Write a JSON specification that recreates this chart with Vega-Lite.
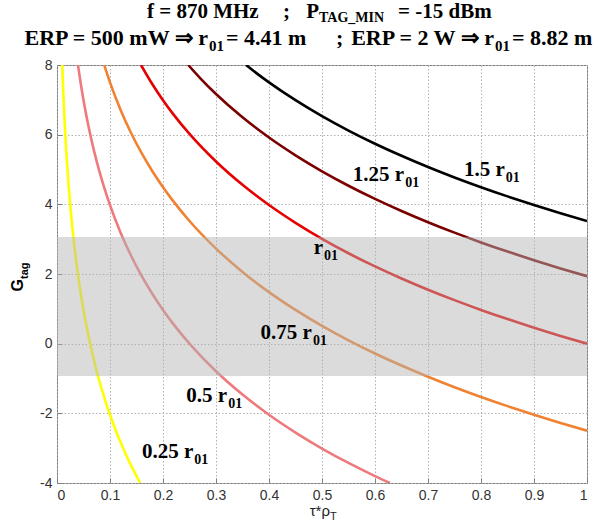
{
  "$schema": "https://vega.github.io/schema/vega-lite/v6.json",
  "autosize": {"type": "none"},
  "padding": {"left": 57, "top": 65, "right": 29, "bottom": 46},
  "width": 530,
  "height": 418,
  "background": "white",
  "config": {
    "view": {"stroke": "#7f7f7f", "strokeWidth": 1},
    "axis": {
      "labelFont": "Liberation Sans",
      "labelFontSize": 14,
      "labelColor": "#333333",
      "grid": true,
      "gridColor": "#b0b0b0",
      "gridDash": [1.5, 2],
      "gridWidth": 1,
      "domain": false,
      "tickSize": -5,
      "tickColor": "#7f7f7f",
      "title": null
    }
  },
  "datasets": {
    "curves": [
      {"curve": "1.5 r01", "x": 0.3567, "y": 8},
      {"curve": "1.5 r01", "x": 0.38, "y": 7.724},
      {"curve": "1.5 r01", "x": 0.4, "y": 7.501},
      {"curve": "1.5 r01", "x": 0.45, "y": 6.99},
      {"curve": "1.5 r01", "x": 0.5, "y": 6.532},
      {"curve": "1.5 r01", "x": 0.55, "y": 6.118},
      {"curve": "1.5 r01", "x": 0.6, "y": 5.74},
      {"curve": "1.5 r01", "x": 0.65, "y": 5.393},
      {"curve": "1.5 r01", "x": 0.7, "y": 5.071},
      {"curve": "1.5 r01", "x": 0.75, "y": 4.771},
      {"curve": "1.5 r01", "x": 0.8, "y": 4.491},
      {"curve": "1.5 r01", "x": 0.85, "y": 4.228},
      {"curve": "1.5 r01", "x": 0.9, "y": 3.98},
      {"curve": "1.5 r01", "x": 0.95, "y": 3.745},
      {"curve": "1.5 r01", "x": 1, "y": 3.522},
      {"curve": "1.25 r01", "x": 0.2476, "y": 8},
      {"curve": "1.25 r01", "x": 0.27, "y": 7.624},
      {"curve": "1.25 r01", "x": 0.3, "y": 7.167},
      {"curve": "1.25 r01", "x": 0.35, "y": 6.497},
      {"curve": "1.25 r01", "x": 0.4, "y": 5.917},
      {"curve": "1.25 r01", "x": 0.45, "y": 5.406},
      {"curve": "1.25 r01", "x": 0.5, "y": 4.948},
      {"curve": "1.25 r01", "x": 0.55, "y": 4.534},
      {"curve": "1.25 r01", "x": 0.6, "y": 4.156},
      {"curve": "1.25 r01", "x": 0.65, "y": 3.809},
      {"curve": "1.25 r01", "x": 0.7, "y": 3.487},
      {"curve": "1.25 r01", "x": 0.75, "y": 3.187},
      {"curve": "1.25 r01", "x": 0.8, "y": 2.907},
      {"curve": "1.25 r01", "x": 0.85, "y": 2.644},
      {"curve": "1.25 r01", "x": 0.9, "y": 2.396},
      {"curve": "1.25 r01", "x": 0.95, "y": 2.161},
      {"curve": "1.25 r01", "x": 1, "y": 1.938},
      {"curve": "r01", "x": 0.1585, "y": 8},
      {"curve": "r01", "x": 0.18, "y": 7.447},
      {"curve": "r01", "x": 0.2, "y": 6.99},
      {"curve": "r01", "x": 0.22, "y": 6.576},
      {"curve": "r01", "x": 0.25, "y": 6.021},
      {"curve": "r01", "x": 0.3, "y": 5.229},
      {"curve": "r01", "x": 0.35, "y": 4.559},
      {"curve": "r01", "x": 0.4, "y": 3.979},
      {"curve": "r01", "x": 0.45, "y": 3.468},
      {"curve": "r01", "x": 0.5, "y": 3.01},
      {"curve": "r01", "x": 0.55, "y": 2.596},
      {"curve": "r01", "x": 0.6, "y": 2.218},
      {"curve": "r01", "x": 0.65, "y": 1.871},
      {"curve": "r01", "x": 0.7, "y": 1.549},
      {"curve": "r01", "x": 0.75, "y": 1.249},
      {"curve": "r01", "x": 0.8, "y": 0.969},
      {"curve": "r01", "x": 0.85, "y": 0.706},
      {"curve": "r01", "x": 0.9, "y": 0.458},
      {"curve": "r01", "x": 0.95, "y": 0.223},
      {"curve": "r01", "x": 1, "y": 0},
      {"curve": "0.75 r01", "x": 0.0891, "y": 8},
      {"curve": "0.75 r01", "x": 0.1, "y": 7.501},
      {"curve": "0.75 r01", "x": 0.12, "y": 6.709},
      {"curve": "0.75 r01", "x": 0.14, "y": 6.04},
      {"curve": "0.75 r01", "x": 0.16, "y": 5.46},
      {"curve": "0.75 r01", "x": 0.18, "y": 4.948},
      {"curve": "0.75 r01", "x": 0.2, "y": 4.491},
      {"curve": "0.75 r01", "x": 0.22, "y": 4.077},
      {"curve": "0.75 r01", "x": 0.25, "y": 3.522},
      {"curve": "0.75 r01", "x": 0.3, "y": 2.73},
      {"curve": "0.75 r01", "x": 0.35, "y": 2.06},
      {"curve": "0.75 r01", "x": 0.4, "y": 1.48},
      {"curve": "0.75 r01", "x": 0.45, "y": 0.969},
      {"curve": "0.75 r01", "x": 0.5, "y": 0.511},
      {"curve": "0.75 r01", "x": 0.55, "y": 0.097},
      {"curve": "0.75 r01", "x": 0.6, "y": -0.281},
      {"curve": "0.75 r01", "x": 0.65, "y": -0.628},
      {"curve": "0.75 r01", "x": 0.7, "y": -0.95},
      {"curve": "0.75 r01", "x": 0.75, "y": -1.25},
      {"curve": "0.75 r01", "x": 0.8, "y": -1.53},
      {"curve": "0.75 r01", "x": 0.85, "y": -1.793},
      {"curve": "0.75 r01", "x": 0.9, "y": -2.041},
      {"curve": "0.75 r01", "x": 0.95, "y": -2.276},
      {"curve": "0.75 r01", "x": 1, "y": -2.499},
      {"curve": "0.5 r01", "x": 0.0396, "y": 8},
      {"curve": "0.5 r01", "x": 0.045, "y": 7.447},
      {"curve": "0.5 r01", "x": 0.05, "y": 6.989},
      {"curve": "0.5 r01", "x": 0.06, "y": 6.197},
      {"curve": "0.5 r01", "x": 0.07, "y": 5.528},
      {"curve": "0.5 r01", "x": 0.08, "y": 4.948},
      {"curve": "0.5 r01", "x": 0.09, "y": 4.437},
      {"curve": "0.5 r01", "x": 0.1, "y": 3.979},
      {"curve": "0.5 r01", "x": 0.12, "y": 3.187},
      {"curve": "0.5 r01", "x": 0.14, "y": 2.518},
      {"curve": "0.5 r01", "x": 0.16, "y": 1.938},
      {"curve": "0.5 r01", "x": 0.18, "y": 1.426},
      {"curve": "0.5 r01", "x": 0.2, "y": 0.969},
      {"curve": "0.5 r01", "x": 0.22, "y": 0.555},
      {"curve": "0.5 r01", "x": 0.25, "y": 0},
      {"curve": "0.5 r01", "x": 0.3, "y": -0.792},
      {"curve": "0.5 r01", "x": 0.35, "y": -1.462},
      {"curve": "0.5 r01", "x": 0.4, "y": -2.042},
      {"curve": "0.5 r01", "x": 0.45, "y": -2.553},
      {"curve": "0.5 r01", "x": 0.5, "y": -3.011},
      {"curve": "0.5 r01", "x": 0.55, "y": -3.425},
      {"curve": "0.5 r01", "x": 0.6, "y": -3.803},
      {"curve": "0.5 r01", "x": 0.628, "y": -4},
      {"curve": "0.25 r01", "x": 0.00991, "y": 8},
      {"curve": "0.25 r01", "x": 0.011, "y": 7.545},
      {"curve": "0.25 r01", "x": 0.012, "y": 7.167},
      {"curve": "0.25 r01", "x": 0.013, "y": 6.82},
      {"curve": "0.25 r01", "x": 0.015, "y": 6.198},
      {"curve": "0.25 r01", "x": 0.0175, "y": 5.529},
      {"curve": "0.25 r01", "x": 0.02, "y": 4.949},
      {"curve": "0.25 r01", "x": 0.025, "y": 3.98},
      {"curve": "0.25 r01", "x": 0.03, "y": 3.188},
      {"curve": "0.25 r01", "x": 0.035, "y": 2.518},
      {"curve": "0.25 r01", "x": 0.04, "y": 1.938},
      {"curve": "0.25 r01", "x": 0.05, "y": 0.969},
      {"curve": "0.25 r01", "x": 0.06, "y": 0.177},
      {"curve": "0.25 r01", "x": 0.07, "y": -0.492},
      {"curve": "0.25 r01", "x": 0.08, "y": -1.072},
      {"curve": "0.25 r01", "x": 0.09, "y": -1.583},
      {"curve": "0.25 r01", "x": 0.1, "y": -2.041},
      {"curve": "0.25 r01", "x": 0.11, "y": -2.455},
      {"curve": "0.25 r01", "x": 0.12, "y": -2.833},
      {"curve": "0.25 r01", "x": 0.13, "y": -3.18},
      {"curve": "0.25 r01", "x": 0.14, "y": -3.502},
      {"curve": "0.25 r01", "x": 0.15, "y": -3.802},
      {"curve": "0.25 r01", "x": 0.157, "y": -4}
    ],
    "labels": [
      {"curve": "1.5 r01", "main": "1.5 r", "sub": "01", "x": 0.845, "y": 4.81},
      {"curve": "1.25 r01", "main": "1.25 r", "sub": "01", "x": 0.655, "y": 4.67},
      {"curve": "r01", "main": "r", "sub": "01", "x": 0.502, "y": 2.57},
      {"curve": "0.75 r01", "main": "0.75 r", "sub": "01", "x": 0.481, "y": 0.13},
      {"curve": "0.5 r01", "main": "0.5 r", "sub": "01", "x": 0.321, "y": -1.68},
      {"curve": "0.25 r01", "main": "0.25 r", "sub": "01", "x": 0.257, "y": -3.28}
    ],
    "band": [{"low": -0.93, "high": 3.06}],
    "one": [{}]
  },
  "layer": [
    {
      "data": {"name": "curves"},
      "mark": {"type": "line", "clip": true, "strokeWidth": 2.6, "interpolate": "monotone"},
      "encoding": {
        "x": {
          "field": "x", "type": "quantitative",
          "scale": {"domain": [0, 1], "nice": false, "zero": false},
          "axis": {"values": [0, 0.1, 0.2, 0.3, 0.4, 0.5, 0.6, 0.7, 0.8, 0.9, 1], "labelExpr": "'' + datum.value", "labelPadding": 10}
        },
        "y": {
          "field": "y", "type": "quantitative",
          "scale": {"domain": [-4, 8], "nice": false, "zero": false},
          "axis": {"values": [-4, -2, 0, 2, 4, 6, 8], "labelExpr": "'' + datum.value", "labelPadding": 10}
        },
        "color": {
          "field": "curve", "type": "nominal",
          "scale": {
            "domain": ["1.5 r01", "1.25 r01", "r01", "0.75 r01", "0.5 r01", "0.25 r01"],
            "range": ["#000000", "#7a0000", "#e60000", "#f08232", "#ee7a7e", "#ffff00"]
          },
          "legend": null
        }
      }
    },
    {
      "data": {"name": "band"},
      "mark": {"type": "rect", "fill": "#b4b4b4", "opacity": 0.48},
      "encoding": {
        "x": {"datum": 0, "type": "quantitative"},
        "x2": {"datum": 1},
        "y": {"field": "low", "type": "quantitative"},
        "y2": {"field": "high"}
      }
    },
    {
      "data": {"name": "labels"},
      "mark": {"type": "text", "align": "right", "baseline": "alphabetic", "font": "Liberation Serif", "fontWeight": "bold", "fontSize": 21, "color": "#000000"},
      "encoding": {
        "x": {"field": "x", "type": "quantitative"},
        "y": {"field": "y", "type": "quantitative"},
        "text": {"field": "main"}
      }
    },
    {
      "data": {"name": "labels"},
      "mark": {"type": "text", "align": "left", "baseline": "alphabetic", "font": "Liberation Serif", "fontWeight": "bold", "fontSize": 14, "dx": 1, "dy": 6, "color": "#000000"},
      "encoding": {
        "x": {"field": "x", "type": "quantitative"},
        "y": {"field": "y", "type": "quantitative"},
        "text": {"field": "sub"}
      }
    },
    {
      "data": {"name": "one"},
      "mark": {"type": "text", "align": "left", "baseline": "alphabetic", "font": "Liberation Serif", "fontWeight": "bold", "fontSize": 21, "text": "f = 870 MHz"},
      "encoding": {"x": {"datum": 0.1698, "type": "quantitative"}, "y": {"datum": 9.349, "type": "quantitative"}}
    },
    {
      "data": {"name": "one"},
      "mark": {"type": "text", "align": "left", "baseline": "alphabetic", "font": "Liberation Serif", "fontWeight": "bold", "fontSize": 21, "text": ";"},
      "encoding": {"x": {"datum": 0.4264, "type": "quantitative"}, "y": {"datum": 9.349, "type": "quantitative"}}
    },
    {
      "data": {"name": "one"},
      "mark": {"type": "text", "align": "right", "baseline": "alphabetic", "font": "Liberation Serif", "fontWeight": "bold", "fontSize": 21, "text": "P"},
      "encoding": {"x": {"datum": 0.4943, "type": "quantitative"}, "y": {"datum": 9.349, "type": "quantitative"}}
    },
    {
      "data": {"name": "one"},
      "mark": {"type": "text", "align": "left", "baseline": "alphabetic", "font": "Liberation Serif", "fontWeight": "bold", "fontSize": 14, "dy": 4, "text": "TAG_MIN"},
      "encoding": {"x": {"datum": 0.4943, "type": "quantitative"}, "y": {"datum": 9.349, "type": "quantitative"}}
    },
    {
      "data": {"name": "one"},
      "mark": {"type": "text", "align": "left", "baseline": "alphabetic", "font": "Liberation Serif", "fontWeight": "bold", "fontSize": 21, "text": "= -15 dBm"},
      "encoding": {"x": {"datum": 0.6434, "type": "quantitative"}, "y": {"datum": 9.349, "type": "quantitative"}}
    },
    {
      "data": {"name": "one"},
      "mark": {"type": "text", "align": "right", "baseline": "alphabetic", "font": "Liberation Serif", "fontWeight": "bold", "fontSize": 22, "text": "ERP = 500 mW ⇒ r"},
      "encoding": {"x": {"datum": 0.2849, "type": "quantitative"}, "y": {"datum": 8.574, "type": "quantitative"}}
    },
    {
      "data": {"name": "one"},
      "mark": {"type": "text", "align": "left", "baseline": "alphabetic", "font": "Liberation Serif", "fontWeight": "bold", "fontSize": 15, "dx": 1, "dy": 6, "text": "01"},
      "encoding": {"x": {"datum": 0.2849, "type": "quantitative"}, "y": {"datum": 8.574, "type": "quantitative"}}
    },
    {
      "data": {"name": "one"},
      "mark": {"type": "text", "align": "left", "baseline": "alphabetic", "font": "Liberation Serif", "fontWeight": "bold", "fontSize": 22, "text": "= 4.41 m"},
      "encoding": {"x": {"datum": 0.3189, "type": "quantitative"}, "y": {"datum": 8.574, "type": "quantitative"}}
    },
    {
      "data": {"name": "one"},
      "mark": {"type": "text", "align": "left", "baseline": "alphabetic", "font": "Liberation Serif", "fontWeight": "bold", "fontSize": 22, "text": ";"},
      "encoding": {"x": {"datum": 0.5264, "type": "quantitative"}, "y": {"datum": 8.574, "type": "quantitative"}}
    },
    {
      "data": {"name": "one"},
      "mark": {"type": "text", "align": "right", "baseline": "alphabetic", "font": "Liberation Serif", "fontWeight": "bold", "fontSize": 22, "text": "ERP = 2 W ⇒ r"},
      "encoding": {"x": {"datum": 0.8245, "type": "quantitative"}, "y": {"datum": 8.574, "type": "quantitative"}}
    },
    {
      "data": {"name": "one"},
      "mark": {"type": "text", "align": "left", "baseline": "alphabetic", "font": "Liberation Serif", "fontWeight": "bold", "fontSize": 15, "dx": 1, "dy": 6, "text": "01"},
      "encoding": {"x": {"datum": 0.8245, "type": "quantitative"}, "y": {"datum": 8.574, "type": "quantitative"}}
    },
    {
      "data": {"name": "one"},
      "mark": {"type": "text", "align": "left", "baseline": "alphabetic", "font": "Liberation Serif", "fontWeight": "bold", "fontSize": 22, "text": "= 8.82 m"},
      "encoding": {"x": {"datum": 0.8585, "type": "quantitative"}, "y": {"datum": 8.574, "type": "quantitative"}}
    },
    {
      "data": {"name": "one"},
      "mark": {"type": "text", "align": "right", "baseline": "alphabetic", "font": "Liberation Sans", "fontSize": 15, "color": "#222222", "text": "τ*ρ"},
      "encoding": {"x": {"datum": 0.515, "type": "quantitative"}, "y": {"datum": -4.95, "type": "quantitative"}}
    },
    {
      "data": {"name": "one"},
      "mark": {"type": "text", "align": "left", "baseline": "alphabetic", "font": "Liberation Sans", "fontSize": 11, "dy": 4, "color": "#222222", "text": "T"},
      "encoding": {"x": {"datum": 0.515, "type": "quantitative"}, "y": {"datum": -4.95, "type": "quantitative"}}
    },
    {
      "data": {"name": "one"},
      "mark": {"type": "text", "align": "right", "baseline": "alphabetic", "angle": 270, "font": "Liberation Sans", "fontWeight": "bold", "fontSize": 16, "color": "#000000", "text": "G"},
      "encoding": {"x": {"datum": -0.0642, "type": "quantitative"}, "y": {"datum": 1.856, "type": "quantitative"}}
    },
    {
      "data": {"name": "one"},
      "mark": {"type": "text", "align": "left", "baseline": "alphabetic", "angle": 270, "font": "Liberation Sans", "fontWeight": "bold", "fontSize": 11, "dy": 5, "color": "#000000", "text": "tag"},
      "encoding": {"x": {"datum": -0.0642, "type": "quantitative"}, "y": {"datum": 1.856, "type": "quantitative"}}
    }
  ]
}
